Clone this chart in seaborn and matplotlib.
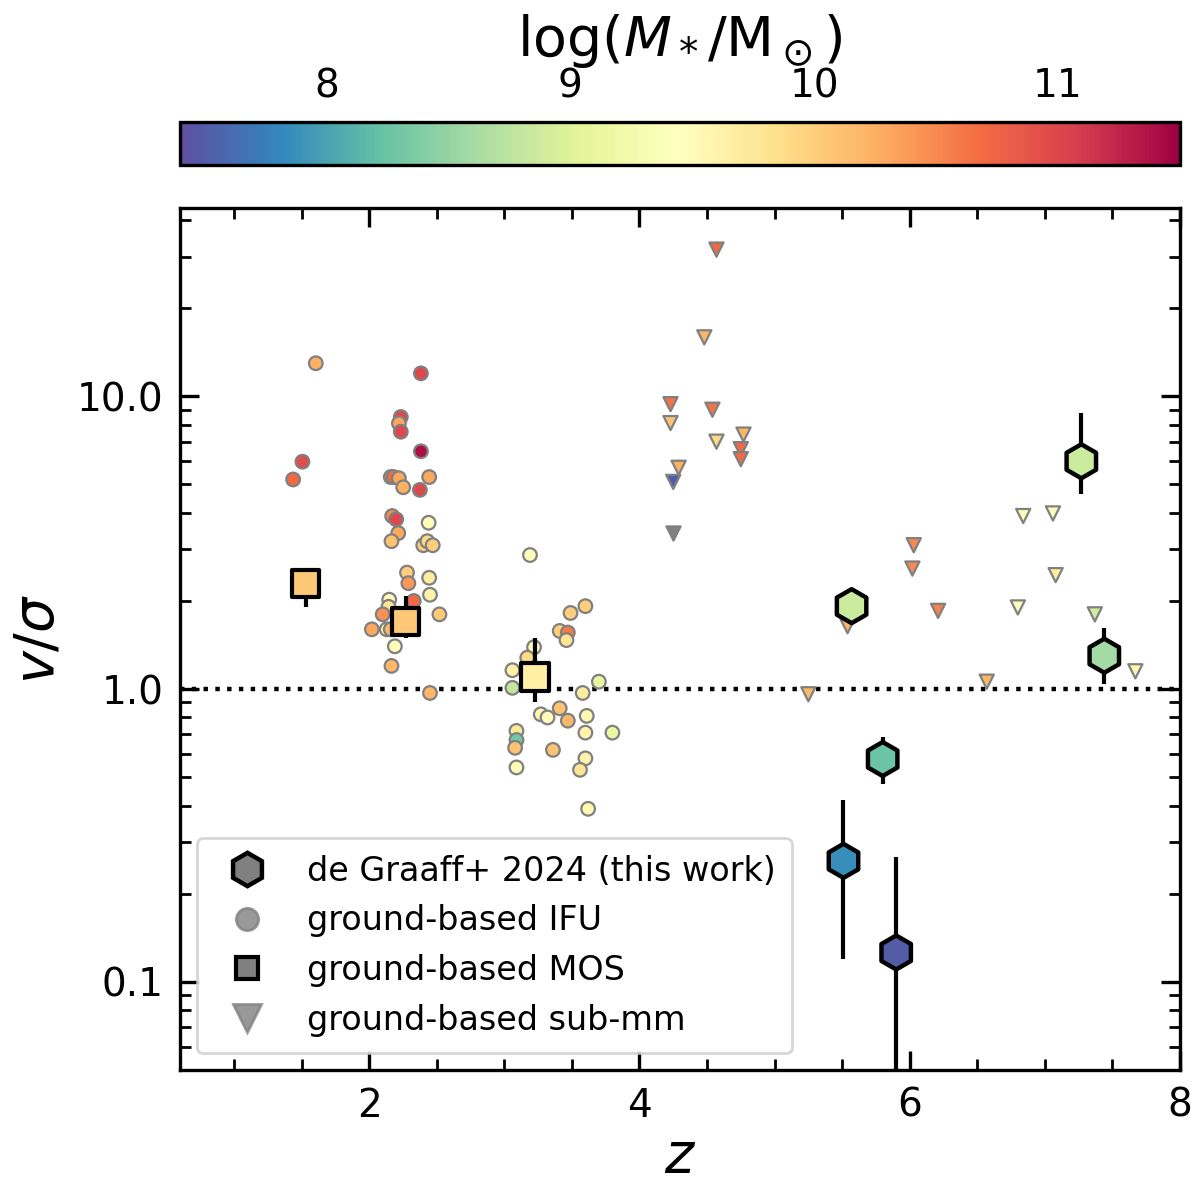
import numpy as np
import pandas as pd
import matplotlib
matplotlib.use("Agg")
import matplotlib.pyplot as plt
from matplotlib.colors import Normalize
from matplotlib.lines import Line2D
from matplotlib.ticker import MultipleLocator, FormatStrFormatter
import seaborn as sns

# --------------------------
# Data
# --------------------------

# ground-based IFU
ifu_z = [1.605, 2.383, 2.234, 2.22, 2.234, 2.383, 1.506, 1.437, 2.16, 2.18,
         2.22, 2.252, 2.444, 2.375, 2.17, 2.20, 2.44, 2.215, 2.165, 2.40,
         2.43, 2.47, 2.28, 2.29, 2.444, 2.45, 2.148, 2.143, 2.33, 2.10,
         2.52, 2.02, 2.13, 2.16, 2.19, 2.165, 2.45,
         3.19, 3.60, 3.49, 3.41, 3.47, 3.46, 3.22, 3.17, 3.06, 3.06,
         3.70, 3.58, 3.41, 3.27, 3.32, 3.47, 3.61, 3.60, 3.80, 3.09,
         3.09, 3.08, 3.36, 3.60, 3.56, 3.09, 3.62]
ifu_vs = [12.97, 11.98, 8.5, 8.09, 7.57, 6.49, 5.98, 5.2, 5.3, 5.3,
          5.25, 4.89, 5.3, 4.79, 3.9, 3.8, 3.7, 3.41, 3.2, 3.1,
          3.2, 3.1, 2.5, 2.3, 2.4, 2.1, 2.02, 1.91, 2.0, 1.8,
          1.8, 1.6, 1.6, 1.6, 1.4, 1.2, 0.97,
          2.87, 1.92, 1.82, 1.58, 1.56, 1.47, 1.39, 1.28, 1.16, 1.01,
          1.06, 0.97, 0.86, 0.82, 0.80, 0.78, 0.81, 0.71, 0.71, 0.72,
          0.67, 0.63, 0.62, 0.58, 0.53, 0.54, 0.39]
ifu_mass = [10.25, 11.0, 11.0, 10.3, 11.0, 11.4, 10.95, 10.7, 10.6, 10.7,
            10.3, 10.25, 10.3, 11.0, 10.5, 11.0, 9.5, 10.3, 10.1, 10.0,
            9.9, 10.0, 10.0, 10.4, 9.7, 9.6, 9.5, 9.8, 10.7, 10.45,
            10.05, 10.3, 9.6, 10.2, 9.5, 10.2, 10.2,
            9.5, 10.0, 10.0, 10.0, 10.6, 9.8, 9.5, 9.9, 9.65, 8.8,
            9.1, 9.7, 10.1, 9.55, 9.5, 10.2, 9.55, 9.6, 9.15, 9.75,
            8.3, 10.1, 10.1, 9.6, 9.8, 9.5, 9.55]

# ground-based sub-mm
mm_z = [4.57, 4.48, 4.23, 4.54, 4.23, 4.57, 4.77, 4.75, 4.75, 4.29, 4.25,
        6.84, 7.06, 6.03, 6.02, 7.08, 6.21, 6.80, 7.37, 5.54, 6.57, 7.67, 5.25]
mm_vs = [31.7, 15.9, 9.4, 9.0, 8.1, 7.0, 7.4, 6.6, 6.1, 5.7, 5.1,
         3.9, 3.98, 3.1, 2.58, 2.45, 1.85, 1.9, 1.8, 1.64, 1.06, 1.15, 0.96]
mm_mass = [10.7, 10.2, 10.65, 10.65, 10.1, 9.9, 10.2, 10.7, 10.7, 10.25, 7.5,
           9.4, 9.4, 10.5, 10.5, 9.7, 10.55, 9.4, 8.9, 10.2, 10.2, 9.55, 10.2]
# sub-mm point without a stellar mass
mm_nomass_z = [4.25]
mm_nomass_vs = [3.4]

# ground-based MOS
mos_z = [1.53, 2.27, 3.227]
mos_vs = [2.3, 1.7, 1.1]
mos_lo = [1.9, 1.5, 0.905]
mos_hi = [2.5, 2.08, 1.49]
mos_mass = [10.05, 10.05, 9.65]

# de Graaff+ 2024 (this work)
dg_z = [5.57, 7.44, 7.27, 5.80, 5.51, 5.90]
dg_vs = [1.92, 1.30, 6.0, 0.577, 0.259, 0.126]
dg_lo = [1.82, 1.04, 4.63, 0.474, 0.12, 0.01]
dg_hi = [2.02, 1.62, 8.8, 0.686, 0.418, 0.267]
dg_mass = [8.85, 8.6, 8.85, 8.25, 7.85, 7.5]

ifu = pd.DataFrame({"z": ifu_z, "vs": ifu_vs, "mass": ifu_mass})
mm = pd.DataFrame({"z": mm_z, "vs": mm_vs, "mass": mm_mass})
mos = pd.DataFrame({"z": mos_z, "vs": mos_vs, "mass": mos_mass})
dg = pd.DataFrame({"z": dg_z, "vs": dg_vs, "mass": dg_mass})

# --------------------------
# Style
# --------------------------

sns.set_style("ticks")
plt.rcParams.update({
    "font.family": ["DejaVu Sans"],
    "xtick.direction": "in",
    "ytick.direction": "in",
    "xtick.top": True,
    "ytick.right": True,
    "axes.linewidth": 1.2,
    "axes.edgecolor": "black",
    "axes.labelcolor": "black",
    "text.color": "black",
    "xtick.color": "black",
    "ytick.color": "black",
})

cmap = "Spectral_r"
norm = Normalize(vmin=7.4, vmax=11.5)

fig = plt.figure(figsize=(6.0, 5.975), dpi=200)
ax = fig.add_axes([0.15, 0.1046, 0.8333, 0.7214])
cax = fig.add_axes([0.15, 0.862, 0.8333, 0.036])

# --------------------------
# Points
# --------------------------

sns.scatterplot(data=ifu, x="z", y="vs", hue="mass", palette=cmap, hue_norm=norm,
                marker="o", s=24, edgecolor="grey", linewidth=0.8,
                legend=False, ax=ax, zorder=3)

sns.scatterplot(data=mm, x="z", y="vs", hue="mass", palette=cmap, hue_norm=norm,
                marker="v", s=26, edgecolor="grey", linewidth=0.8,
                legend=False, ax=ax, zorder=3)
ax.scatter(mm_nomass_z, mm_nomass_vs, marker="v", s=26, color="grey",
           edgecolor="grey", linewidth=0.8, zorder=3)

ax.errorbar(mos_z, mos_vs,
            yerr=[np.array(mos_vs) - np.array(mos_lo), np.array(mos_hi) - np.array(mos_vs)],
            fmt="none", ecolor="black", elinewidth=1.5, zorder=4)
sns.scatterplot(data=mos, x="z", y="vs", hue="mass", palette=cmap, hue_norm=norm,
                marker="s", s=95, edgecolor="black", linewidth=1.5,
                legend=False, ax=ax, zorder=5)

ax.errorbar(dg_z, dg_vs,
            yerr=[np.array(dg_vs) - np.array(dg_lo), np.array(dg_hi) - np.array(dg_vs)],
            fmt="none", ecolor="black", elinewidth=1.5, zorder=6)
sns.scatterplot(data=dg, x="z", y="vs", hue="mass", palette=cmap, hue_norm=norm,
                marker="h", s=150, edgecolor="black", linewidth=1.6,
                legend=False, ax=ax, zorder=7)

ax.axhline(1.0, color="black", linestyle=":", linewidth=1.6, zorder=2)

# --------------------------
# Axes
# --------------------------

ax.set_yscale("log")
ax.set_xlim(0.6, 8)
ax.set_ylim(0.05, 44)
ax.set_yticks([0.1, 1.0, 10.0])
ax.yaxis.set_major_formatter(FormatStrFormatter("%.1f"))
ax.xaxis.set_major_locator(MultipleLocator(2))
ax.xaxis.set_minor_locator(MultipleLocator(0.5))
ax.tick_params(which="major", length=7, width=1.2, labelsize=14, pad=6)
ax.tick_params(which="minor", length=4, width=1.0)
ax.set_xlabel("$z$", fontsize=20, labelpad=2)
ax.set_ylabel(r"$v/\sigma$", fontsize=20, labelpad=4)

# --------------------------
# Legend
# --------------------------

handles = [
    Line2D([], [], linestyle="none", marker="h", markersize=12,
           markerfacecolor="grey", markeredgecolor="black", markeredgewidth=1.6),
    Line2D([], [], linestyle="none", marker="o", markersize=8,
           markerfacecolor="grey", markeredgecolor="grey", alpha=0.8),
    Line2D([], [], linestyle="none", marker="s", markersize=8,
           markerfacecolor="grey", markeredgecolor="black", markeredgewidth=1.5),
    Line2D([], [], linestyle="none", marker="v", markersize=10,
           markerfacecolor="grey", markeredgecolor="grey", alpha=0.8),
]
labels = ["de Graaff+ 2024 (this work)", "ground-based IFU",
          "ground-based MOS", "ground-based sub-mm"]
leg = ax.legend(handles, labels, loc="lower left", fontsize=12, handletextpad=0.8,
                borderpad=0.5, labelspacing=0.5, frameon=True)
leg.get_frame().set_edgecolor("0.8")

# --------------------------
# Colorbar
# --------------------------

sm = plt.cm.ScalarMappable(cmap=cmap, norm=norm)
cb = fig.colorbar(sm, cax=cax, orientation="horizontal")
cax.xaxis.set_ticks_position("top")
cax.xaxis.set_label_position("top")
cb.set_ticks([8, 9, 10, 11])
cax.tick_params(which="both", direction="in", length=7, width=1.2,
                labelsize=14, top=True, bottom=False, pad=6, colors="black")
cax.minorticks_off()
cb.outline.set_linewidth(1.2)
cb.outline.set_edgecolor("black")
cb.set_label(r"log($M_*$/M$_\odot$)", fontsize=20, labelpad=4)

fig.savefig("out.png", dpi=200)
